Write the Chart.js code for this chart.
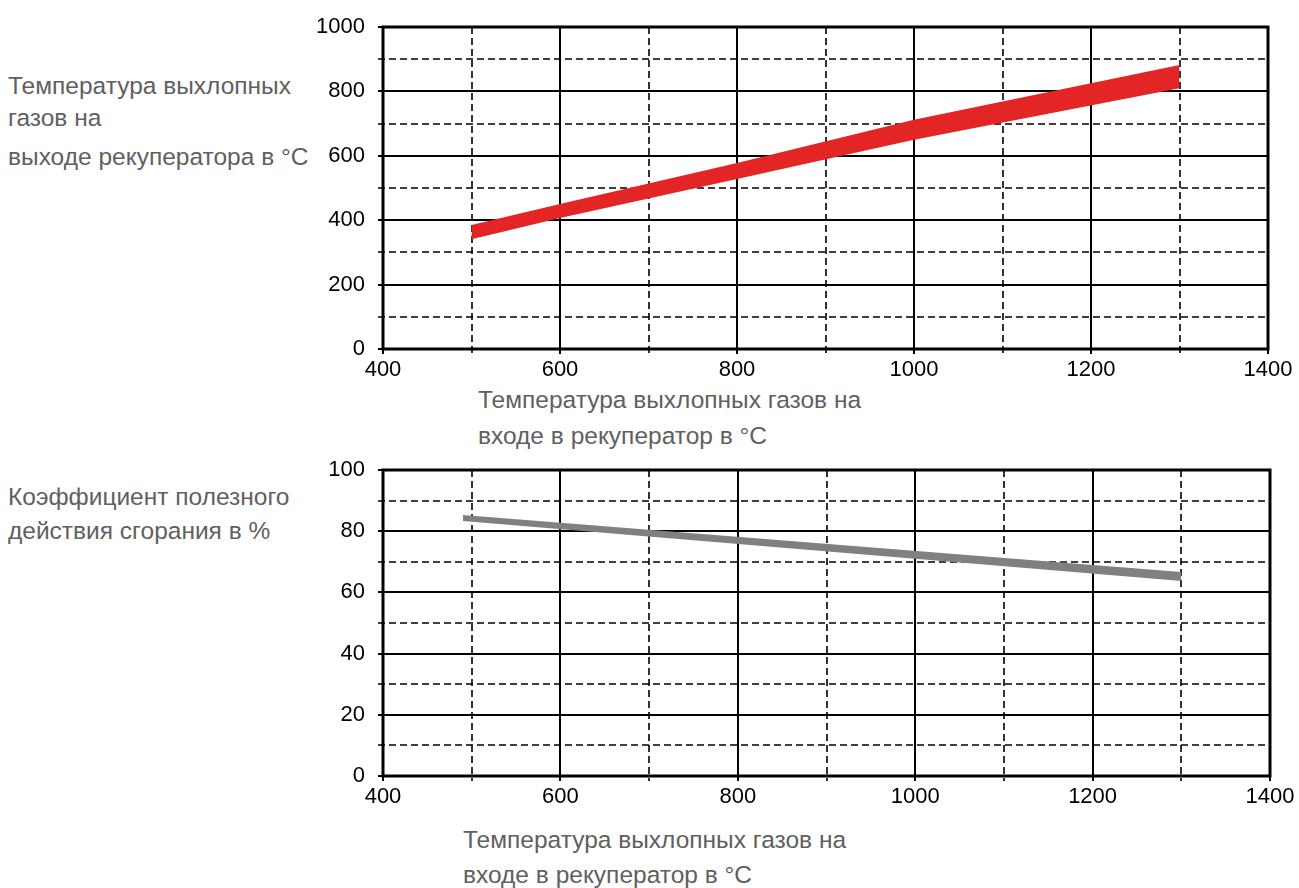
<!DOCTYPE html>
<html>
<head>
<meta charset="utf-8">
<script src="https://cdn.jsdelivr.net/npm/chart.js@4"></script>
<style>
  body { margin: 0; background: #fff; width: 1299px; height: 888px; position: relative; overflow: hidden; }
  .lbl { position: absolute; color: #606060; font-family: "Liberation Sans", Arial, sans-serif; font-size: 24.5px; line-height: 28px; white-space: nowrap; }
  canvas { position: absolute; }
</style>
</head>
<body>
<div class="lbl" style="left:8px; top:72px;">Температура выхлопных</div>
<div class="lbl" style="left:8px; top:104px;">газов на</div>
<div class="lbl" style="left:8px; top:143px;">выходе рекуператора в °C</div>
<div class="lbl" style="left:478px; top:386px;">Температура выхлопных газов на</div>
<div class="lbl" style="left:478px; top:422px;">входе в рекуператор в °C</div>
<div class="lbl" style="left:8px; top:483px;">Коэффициент полезного</div>
<div class="lbl" style="left:8px; top:517px;">действия сгорания в %</div>
<div class="lbl" style="left:463px; top:826px;">Температура выхлопных газов на</div>
<div class="lbl" style="left:463px; top:861px;">входе в рекуператор в °C</div>

<div style="position:absolute;left:300px;top:0;width:1000px;height:389px"><canvas id="c1"></canvas></div>
<div style="position:absolute;left:300px;top:440px;width:1000px;height:376px"><canvas id="c2"></canvas></div>

<script>
// top chart: outlet temperature band
const inletTemp = [500, 600, 800, 1000, 1300];
const outletLow = [341, 407, 528, 650, 810];
const outletHigh = [385, 450, 578, 712, 882];

// bottom chart: efficiency band
const inletTemp2 = [490, 1300];
const effLow = [83.3, 63.7];
const effHigh = [85.3, 66.7];

const xTicks = [400, 600, 800, 1000, 1200, 1400];
const yTicks1 = [0, 200, 400, 600, 800, 1000];
const yTicks2 = [0, 20, 40, 60, 80, 100];

const tickFont = { family: '"Liberation Sans", Arial, sans-serif', size: 22 };

const gridBox = {
  id: 'gridBox',
  beforeDatasetsDraw(chart, args, opts) {
    const ctx = chart.ctx, a = chart.chartArea;
    const xs = chart.scales.x, ys = chart.scales.y;
    ctx.save();
    ctx.strokeStyle = '#000';
    // x grid
    for (let v = xs.min; v <= xs.max; v += opts.xStep) {
      const px = Math.round(xs.getPixelForValue(v));
      const major = (v - xs.min) % (opts.xStep * 2) === 0;
      ctx.lineWidth = major ? 2 : 1.6;
      ctx.setLineDash(major ? [] : [7, 4]);
      ctx.beginPath(); ctx.moveTo(px, a.top); ctx.lineTo(px, a.bottom + 5); ctx.stroke();
    }
    // y grid
    for (let v = ys.min; v <= ys.max; v += opts.yStep) {
      const py = Math.round(ys.getPixelForValue(v));
      const major = (v - ys.min) % (opts.yStep * 2) === 0;
      ctx.lineWidth = major ? 2 : 1.6;
      ctx.setLineDash(major ? [] : [7, 4]);
      ctx.beginPath(); ctx.moveTo(a.left - 5, py); ctx.lineTo(a.right, py); ctx.stroke();
    }
    ctx.setLineDash([]);
    ctx.lineWidth = 3;
    ctx.strokeRect(a.left, a.top, a.right - a.left, a.bottom - a.top);
    ctx.restore();
  }
};

function makeChart(id, xVals, low, high, color, yMax, yStep, padTop, padRight) {
  const lowPts = xVals.map((x, i) => ({ x: x, y: low[i] }));
  const highPts = xVals.map((x, i) => ({ x: x, y: high[i] }));
  return new Chart(document.getElementById(id), {
    type: 'line',
    data: {
      datasets: [
        { data: lowPts, borderColor: color, borderWidth: 0, pointRadius: 0, fill: false },
        { data: highPts, borderColor: color, borderWidth: 0, pointRadius: 0, backgroundColor: color, fill: '-1' }
      ]
    },
    plugins: [gridBox],
    options: {
      responsive: true,
      maintainAspectRatio: false,
      animation: false,
      layout: { padding: { top: padTop, right: padRight, left: 0, bottom: 0 } },
      plugins: {
        legend: { display: false },
        tooltip: { enabled: false },
        gridBox: { xStep: 100, yStep: yStep }
      },
      scales: {
        x: {
          type: 'linear', min: 400, max: 1400,
          grid: { display: false },
          border: { display: false },
          afterFit: s => { s.height = 40; },
          afterBuildTicks: s => { s.ticks = xTicks.map(v => ({ value: v })); },
          ticks: { color: '#000', font: tickFont, padding: 0, maxRotation: 0, autoSkip: false, callback: v => String(v) }
        },
        y: {
          type: 'linear', min: 0, max: yMax,
          grid: { display: false },
          border: { display: false },
          afterFit: s => { s.width = 83; },
          afterBuildTicks: s => { s.ticks = (yMax === 1000 ? yTicks1 : yTicks2).map(v => ({ value: v })); },
          ticks: { color: '#000', font: tickFont, padding: 10, callback: v => String(v) }
        }
      }
    }
  });
}

makeChart('c1', inletTemp, outletLow, outletHigh, '#e32526', 1000, 100, 27, 32);
makeChart('c2', inletTemp2, effLow, effHigh, '#808080', 100, 10, 30, 30);
</script>
</body>
</html>
